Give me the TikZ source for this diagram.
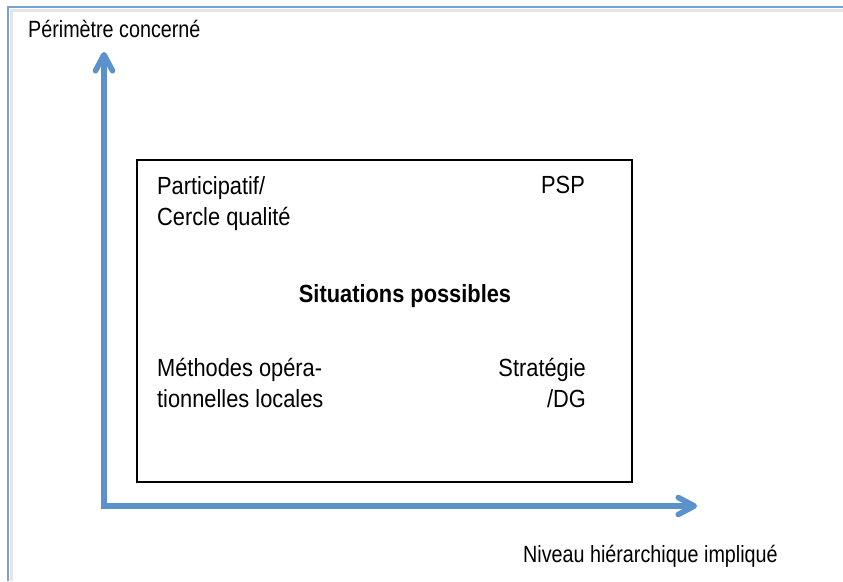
\documentclass[tikz,border=0pt]{standalone}
\usepackage{fontspec}
\setmainfont{Liberation Sans}
\usetikzlibrary{arrows.meta}
\definecolor{axis blue}{RGB}{91,146,204}
\definecolor{frame blue}{RGB}{118,162,212}
\tikzset{axis/.style={draw=axis blue, line width=5.5pt,
		{Straight Barb[length=16pt,width=17pt,round]}-{Straight Barb[length=16pt,width=17pt,round]}},
	axis shadow/.style={axis, draw=black!15},
	frame/.style={draw=frame blue, line width=1.8pt},
	txt/.style={font=\fontsize{23.5}{31.5}\selectfont, inner sep=0pt, xscale=0.84},
	intxt/.style={font=\fontsize{24.8}{31.5}\selectfont, inner sep=0pt, xscale=0.88},
	title/.style={intxt, font=\fontsize{24.8}{31.5}\selectfont\bfseries}}

\begin{document}
\begin{tikzpicture}[x=1pt,y=-1pt]
		\useasboundingbox (0,0) rectangle (843,581);
		% cadre
		\draw[black!10, line width=3pt] (11,581) -- (11,10) -- (843,10);
		\draw[frame] (8,581) -- (8,7) -- (843,7);
		
		\coordinate (top) at (104,52);
		\coordinate (origin) at (104,506);
		\coordinate (right) at (697,506);
		\begin{scope}[shift={(2,3)}]
		\draw[axis shadow] (top) -- (origin) -- (right);
		\end{scope}
		\draw[axis] (top) -- (origin) -- (right);
		
		\node[draw, line width=1.3pt, minimum width=495pt, minimum height=322pt, inner sep=0pt] (box) at (384.5,321) {};
		
		\node[txt, anchor=base west] (perim) at (28,37) {Périmètre concerné};
		\node[txt, anchor=base west] (niveau) at (523,562) {Niveau hiérarchique impliqué};
		
		\node[intxt, anchor=north west, align=left] (partic) at (157,176) {Participatif/\\Cercle qualité};
		\node[intxt, anchor=base east] (psp) at (585,193) {PSP};
		\node[title, anchor=base] (situ) at (405,302) {Situations possibles};
		\node[intxt, anchor=north west, align=left] (methodes) at (157,358) {Méthodes opéra-\\tionnelles locales};
		\node[intxt, anchor=north east, align=right] (strat) at (586,358) {Stratégie\\/DG};
		\end{tikzpicture}
\end{document}
